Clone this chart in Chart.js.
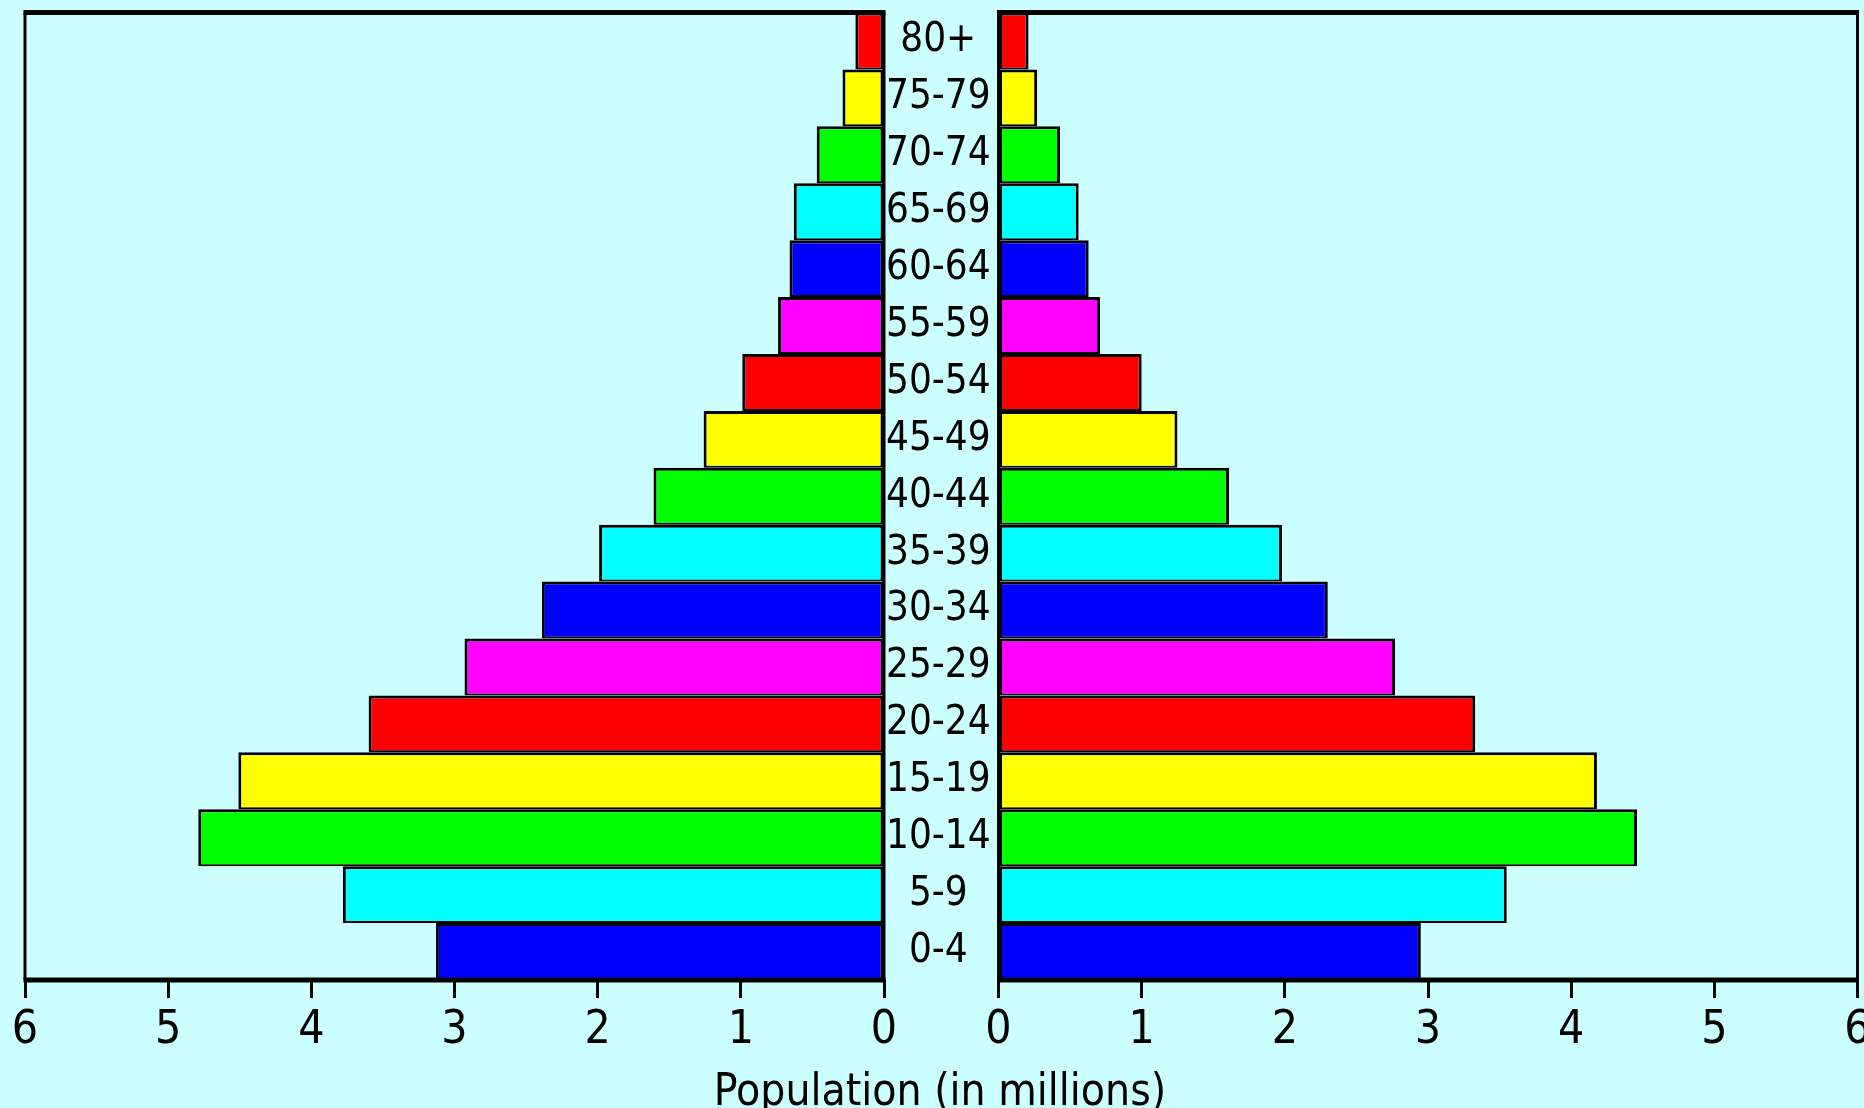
<!DOCTYPE html>
<html>
<head>
<meta charset="utf-8">
<script src="https://cdn.jsdelivr.net/npm/chart.js@4.4.0/dist/chart.umd.min.js"></script>
<style>
	body { margin: 0; background: #ccffff; overflow: hidden; width: 1864px; height: 1108px; position: relative; }
	canvas { position: absolute; top: 0; }
	#left { left: 0; }
	#right { left: 970px; }
	#xtitle {
		position: absolute; top: 1064px; left: 940px; transform: translateX(-50%);
		white-space: nowrap; line-height: 1; color: #000;
		font: 44px "DejaVu Sans Condensed", "Liberation Sans Narrow", sans-serif;
	}
</style>
</head>
<body>
<canvas id="left" width="999" height="1108"></canvas>
<canvas id="right" width="900" height="1108"></canvas>
<div id="xtitle">Population (in millions)</div>
<script>
var ageGroups = ['80+', '75-79', '70-74', '65-69', '60-64', '55-59', '50-54', '45-49', '40-44',
	'35-39', '30-34', '25-29', '20-24', '15-19', '10-14', '5-9', '0-4'];
var leftValues = [0.20, 0.29, 0.47, 0.63, 0.66, 0.74, 0.99, 1.26, 1.61,
	1.99, 2.39, 2.93, 3.60, 4.51, 4.79, 3.78, 3.13];
var rightValues = [0.21, 0.27, 0.43, 0.56, 0.63, 0.71, 1.00, 1.25, 1.61,
	1.98, 2.30, 2.77, 3.33, 4.18, 4.46, 3.55, 2.95];
var axisMax = 6;

var fillColors = ['#ff0000', '#ffff00', '#00ff00', '#00ffff', '#0000ff', '#ff00ff'];
var fontFamily = '"DejaVu Sans Condensed", "Liberation Sans Narrow", sans-serif';

// black box round each panel
var framePlugin = {
	id: 'frame',
	afterDatasetsDraw: function(chart) {
		var a = chart.chartArea, ctx = chart.ctx;
		ctx.save();
		ctx.fillStyle = '#000';
		ctx.fillRect(a.left - 1.5, a.top - 2.5, a.right - a.left + 3, 5);
		ctx.fillRect(a.left - 1.5, a.bottom - 2.5, a.right - a.left + 3, 5);
		ctx.fillRect(a.left - 1.5, a.top, 3, a.bottom - a.top);
		ctx.fillRect(a.right - 1.5, a.top, 3, a.bottom - a.top);
		ctx.restore();
	}
};

function makeChart(id, values, isLeft, pad) {
	return new Chart(document.getElementById(id), {
		type: 'bar',
		data: {
			labels: ageGroups,
			datasets: [{
				data: values,
				backgroundColor: ageGroups.map(function(g, i) { return fillColors[i % 6]; }),
				borderColor: '#000',
				borderWidth: { top: 3, bottom: 2, left: 3, right: 3 },
				borderSkipped: false,
				inflateAmount: 0,
				barPercentage: 1,
				categoryPercentage: 1
			}]
		},
		options: {
			indexAxis: 'y',
			responsive: false,
			animation: false,
			layout: { padding: pad },
			plugins: { legend: { display: false }, tooltip: { enabled: false } },
			scales: {
				x: {
					type: 'linear',
					min: 0,
					max: axisMax,
					reverse: isLeft,
					ticks: { stepSize: 1, color: '#000', padding: 5, maxRotation: 0,
						font: { family: fontFamily, size: 46 } },
					grid: { drawOnChartArea: false, drawTicks: true, tickLength: 18,
						tickWidth: 3, tickColor: '#000' },
					border: { display: false },
					afterFit: function(s) {
						s.height = 128;
						s.paddingLeft = 0;
						s.paddingRight = 0;
					}
				},
				y: {
					position: isLeft ? 'right' : 'left',
					display: isLeft,
					grid: { display: false, drawTicks: false },
					border: { display: false },
					ticks: { color: '#000', padding: 2, crossAlign: 'center', autoSkip: false,
						font: { family: fontFamily, size: 40 } },
					afterFit: function(s) {
						s.width = isLeft ? 115 : 0;
						s.paddingTop = 0;
						s.paddingBottom = 0;
					}
				}
			}
		},
		plugins: [framePlugin]
	});
}

makeChart('left', leftValues, true, { left: 25, right: 0, top: 12.5, bottom: 0 });
makeChart('right', rightValues, false, { left: 28.5, right: 12.5, top: 12.5, bottom: 0 });
</script>
</body>
</html>
